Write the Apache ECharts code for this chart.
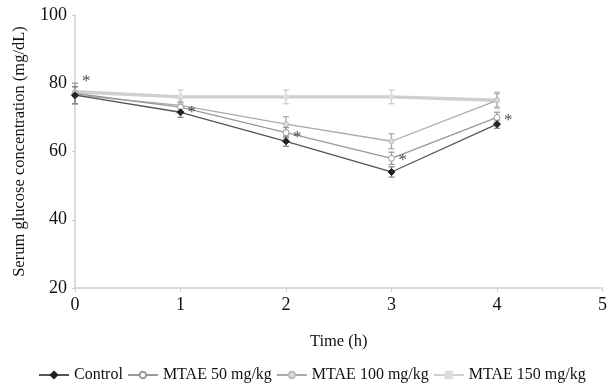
<!DOCTYPE html>
<html><head><meta charset="utf-8">
<script src="https://cdn.jsdelivr.net/npm/echarts@6/dist/echarts.min.js"></script>
<style>html,body{margin:0;padding:0;background:#fff}#c{width:610px;height:388px}</style>
</head><body><div id="c"></div>
<script>
const times = [0, 1, 2, 3, 4];
const seriesNames = ['Control', 'MTAE 50 mg/kg', 'MTAE 100 mg/kg', 'MTAE 150 mg/kg'];
const control = [76.5, 71.5, 63, 54, 68];
const mtae50 = [77, 73, 65.5, 58, 70];
const mtae100 = [76.5, 73.5, 68, 63, 75];
const mtae150 = [77.5, 76, 76, 76, 75];
const errControl = [2.5, 1.5, 1.5, 1.5, 1.2];
const errMtae50 = [3, 1.5, 1.5, 1.8, 1.5];
const errMtae100 = [2.5, 2, 2.2, 2.2, 2];
const errMtae150 = [1.5, 2, 2, 2, 2.5];
const sigX = [0, 1, 2, 3, 4];
const sigY = [80.5, 71.5, 64, 57.5, 69.2];
const xTicks = [0, 1, 2, 3, 4, 5];
const yTicks = [20, 40, 60, 80, 100];

const FONT = '"Liberation Serif", "DejaVu Serif", serif';
const styles = [
  {color: '#555', lw: 1.3, sym: 'diamond', size: 7, fill: '#222', border: '#222', err: '#888'},
  {color: '#999', lw: 1.3, sym: 'circle', size: 6, fill: '#fff', border: '#999', err: '#999'},
  {color: '#aaa', lw: 1.3, sym: 'circle', size: 5, fill: '#ddd', border: '#bbb', err: '#aaa'},
  {color: '#cfcfcf', lw: 3.4, sym: 'rect', size: 4, fill: '#ddd', border: '#ddd', err: '#cfcfcf'}
];
const vals = [control, mtae50, mtae100, mtae150];
const errs = [errControl, errMtae50, errMtae100, errMtae150];

const series = [];
[3, 2, 1, 0].forEach(i => {
  const st = styles[i];
  series.push({
    name: seriesNames[i] + '_err', type: 'custom', silent: true, z: 2,
    data: times.map((t, k) => [t, vals[i][k] - errs[i][k], vals[i][k] + errs[i][k]]),
    renderItem: (params, api) => {
      const lo = api.coord([api.value(0), api.value(1)]);
      const hi = api.coord([api.value(0), api.value(2)]);
      const w = 3;
      const s = {stroke: st.err, lineWidth: 1.3};
      return {type: 'group', children: [
        {type: 'line', shape: {x1: lo[0], y1: lo[1], x2: hi[0], y2: hi[1]}, style: s},
        {type: 'line', shape: {x1: lo[0]-w, y1: lo[1], x2: lo[0]+w, y2: lo[1]}, style: s},
        {type: 'line', shape: {x1: hi[0]-w, y1: hi[1], x2: hi[0]+w, y2: hi[1]}, style: s}
      ]};
    }
  });
  series.push({
    name: seriesNames[i], type: 'line', z: 3,
    data: times.map((t, k) => [t, vals[i][k]]),
    symbol: st.sym, symbolSize: st.size, showAllSymbol: true,
    lineStyle: {color: st.color, width: st.lw},
    itemStyle: {color: st.fill, borderColor: st.border, borderWidth: 1},
    color: st.color
  });
});
series.push({
  type: 'scatter', silent: true, z: 5,
  data: sigX.map((t, k) => [t, sigY[k]]),
  symbolSize: 0,
  label: {show: true, formatter: '*', position: 'right', distance: 7, fontFamily: FONT, fontSize: 17, color: '#222'}
});

const chart = echarts.init(document.getElementById('c'), null, {renderer: 'canvas'});
chart.setOption({
  animation: false,
  backgroundColor: '#fff',
  textStyle: {fontFamily: FONT},
  grid: {left: 75, right: 6, top: 15, bottom: 100, containLabel: false},
  legend: {
    data: seriesNames, bottom: 0, left: 33, itemGap: 4, itemWidth: 30, itemHeight: 8,
    textStyle: {fontFamily: FONT, fontSize: 16, color: '#111'}
  },
  xAxis: {
    type: 'value', min: xTicks[0], max: xTicks[xTicks.length - 1], interval: 1,
    name: 'Time (h)', nameLocation: 'middle', nameGap: 45,
    nameTextStyle: {fontFamily: FONT, fontSize: 16.5, color: '#111'},
    axisLine: {lineStyle: {color: '#d0d0d0', width: 1.5}},
    axisTick: {show: true, length: 4, lineStyle: {color: '#ccc'}},
    axisLabel: {fontFamily: FONT, fontSize: 18, color: '#111', margin: 8},
    splitLine: {show: false}
  },
  yAxis: {
    type: 'value', min: yTicks[0], max: yTicks[yTicks.length - 1], interval: 20,
    name: 'Serum glucose concentration (mg/dL)', nameLocation: 'middle', nameGap: 47,
    nameTextStyle: {fontFamily: FONT, fontSize: 16.5, color: '#111'},
    axisLine: {show: true, lineStyle: {color: '#d0d0d0', width: 1.5}},
    axisTick: {show: true, length: 3, lineStyle: {color: '#ccc'}},
    axisLabel: {fontFamily: FONT, fontSize: 18, color: '#111', margin: 8},
    splitLine: {show: false}
  },
  series: series
});
</script></body></html>
